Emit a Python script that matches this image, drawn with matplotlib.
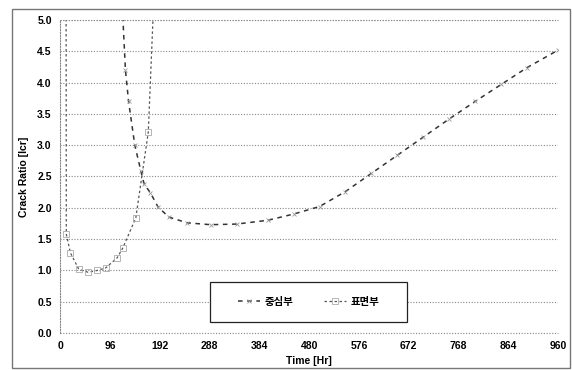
import matplotlib
matplotlib.use("Agg")
import matplotlib.pyplot as plt
from matplotlib.patches import Rectangle

plt.rcParams["font.family"] = ["Liberation Sans Narrow", "Liberation Sans", "Noto Sans CJK KR"]

# 중심부 (center) — comes down from off-chart after ~120 h
center_t = [120, 126, 132, 144, 156, 162, 174, 189, 210, 245, 290, 340, 400,
            450, 500, 550, 600, 650, 700, 750, 800, 850, 900, 960]
center_v = [5.2, 4.2, 3.7, 3.0, 2.58, 2.38, 2.24, 2.01, 1.85, 1.76, 1.73, 1.74,
            1.80, 1.90, 2.02, 2.26, 2.55, 2.84, 3.13, 3.42, 3.70, 3.97, 4.24, 4.52]

# 표면부 (surface) — huge at start, dips to ~1.0, then shoots off-chart
surface_t = [0, 12, 20, 36, 54, 72, 88, 110, 121, 146, 170, 185]
surface_v = [120, 1.58, 1.28, 1.02, 0.97, 1.00, 1.04, 1.20, 1.36, 1.84, 3.21, 6.2]

x_ticks = [0, 96, 192, 288, 384, 480, 576, 672, 768, 864, 960]
y_ticks = [0.0, 0.5, 1.0, 1.5, 2.0, 2.5, 3.0, 3.5, 4.0, 4.5, 5.0]

fig = plt.figure(figsize=(5.72, 3.70), dpi=100)
ax = fig.add_axes([0.105, 0.10, 0.871, 0.846])

ax.plot(center_t, center_v, color="#333333", lw=1.1, ls=(0, (3, 3)),
        marker="x", ms=3, mew=0.6, mec="#999999", label="중심부")
ax.plot(surface_t, surface_v, color="#555555", lw=0.9, ls=(0, (2, 2)),
        marker="s", ms=5, mfc="none", mew=0.6, mec="#aaaaaa", label="표면부")

ax.set_xlim(0, 960)
ax.set_ylim(0, 5.0)
ax.set_xticks(x_ticks)
ax.set_yticks(y_ticks)
ax.set_yticklabels([f"{v:.1f}" for v in y_ticks])
ax.tick_params(length=0, labelsize=7.5, pad=6)
for lab in ax.get_xticklabels() + ax.get_yticklabels():
    lab.set_fontweight("bold")

ax.grid(axis="y", color="#888888", ls=(0, (1, 1.5)), lw=0.8)
for side in ("top", "right", "bottom"):
    ax.spines[side].set_visible(False)
ax.spines["left"].set_color("#888888")
ax.spines["left"].set_linestyle((0, (1, 1.5)))
ax.spines["left"].set_linewidth(0.8)
ax.axhline(0, color="#888888", ls=(0, (1, 1.5)), lw=0.8, clip_on=False)
ax.axhline(5.0, color="#888888", ls=(0, (1, 1.5)), lw=0.8, clip_on=False)

ax.set_xlabel("Time [Hr]", fontsize=7.5, fontweight="bold", labelpad=3)
ax.set_ylabel("Crack Ratio [Icr]", fontsize=7.5, fontweight="bold", labelpad=6)

# legend box drawn separately so its size matches the original
ax.add_patch(Rectangle((0.301, 0.035), 0.396, 0.128, transform=ax.transAxes,
                       facecolor="white", edgecolor="#222222", lw=0.9, zorder=4))
leg = ax.legend(ncol=2, loc="center", bbox_to_anchor=(0.499, 0.099),
                fontsize=7.5, frameon=False, handlelength=2.1,
                handletextpad=0.4, columnspacing=3.0)
leg.set_zorder(5)
for t in leg.get_texts():
    t.set_fontweight("bold")

# chart-area border
fig.patches.append(Rectangle((0.021, 0.005), 0.975, 0.97, transform=fig.transFigure,
                             fill=False, edgecolor="#777777", lw=1.0))

fig.savefig("out.png", dpi=100)
